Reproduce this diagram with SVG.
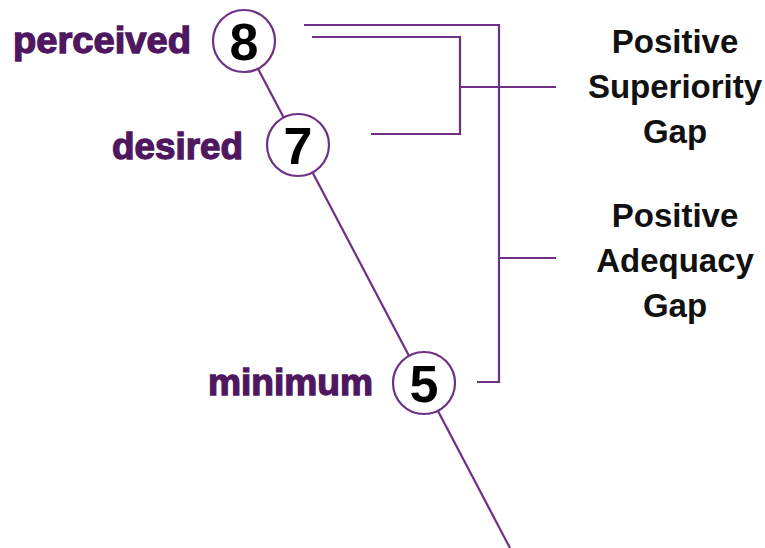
<svg xmlns="http://www.w3.org/2000/svg" width="765" height="548" viewBox="0 0 765 548">
  <style>
    .line { stroke: #6e2f86; stroke-width: 2.2; fill: none; }
    .node circle { fill: #ffffff; stroke: #6e2f86; stroke-width: 2.2; }
    .num { font-family: "Liberation Sans", Arial, sans-serif; font-weight: bold; font-size: 52px; fill: #000000; text-anchor: middle; }
    .lbl { font-family: "Liberation Sans", Arial, sans-serif; font-weight: bold; font-size: 36px; fill: #4f1760; stroke: #4f1760; stroke-width: 1.3; }
    .gap { font-family: "Liberation Sans", Arial, sans-serif; font-weight: bold; font-size: 33px; fill: #111111; text-anchor: middle; }
  </style>
  <rect width="765" height="548" fill="#ffffff"/>

  <g id="connectors">
    <!-- scale line running through the three ratings -->
    <line class="line" x1="244" y1="42" x2="510" y2="548"/>
    <!-- superiority bracket: perceived to desired -->
    <polyline class="line" points="312,37 460,37 460,134 371,134"/>
    <line class="line" x1="460" y1="87" x2="556" y2="87"/>
    <!-- adequacy bracket: perceived to minimum -->
    <polyline class="line" points="304,25 499,25 499,382 477,382"/>
    <line class="line" x1="499" y1="258" x2="556" y2="258"/>
  </g>

  <g id="node-perceived" class="node">
    <circle cx="244" cy="41" r="31"/>
    <text class="num" x="244" y="60">8</text>
    <text class="lbl" x="13" y="53" textLength="178" lengthAdjust="spacingAndGlyphs">perceived</text>
  </g>

  <g id="node-desired" class="node">
    <circle cx="298" cy="145" r="31"/>
    <text class="num" x="298" y="164">7</text>
    <text class="lbl" x="112" y="159" textLength="131" lengthAdjust="spacingAndGlyphs">desired</text>
  </g>

  <g id="node-minimum" class="node">
    <circle cx="424" cy="383" r="31"/>
    <text class="num" x="424" y="402">5</text>
    <text class="lbl" x="208" y="395" textLength="165" lengthAdjust="spacingAndGlyphs">minimum</text>
  </g>

  <g id="label-superiority">
    <text class="gap" x="675" y="53">Positive</text>
    <text class="gap" x="675" y="98">Superiority</text>
    <text class="gap" x="675" y="143">Gap</text>
  </g>

  <g id="label-adequacy">
    <text class="gap" x="675" y="227">Positive</text>
    <text class="gap" x="675" y="272">Adequacy</text>
    <text class="gap" x="675" y="317">Gap</text>
  </g>
</svg>
